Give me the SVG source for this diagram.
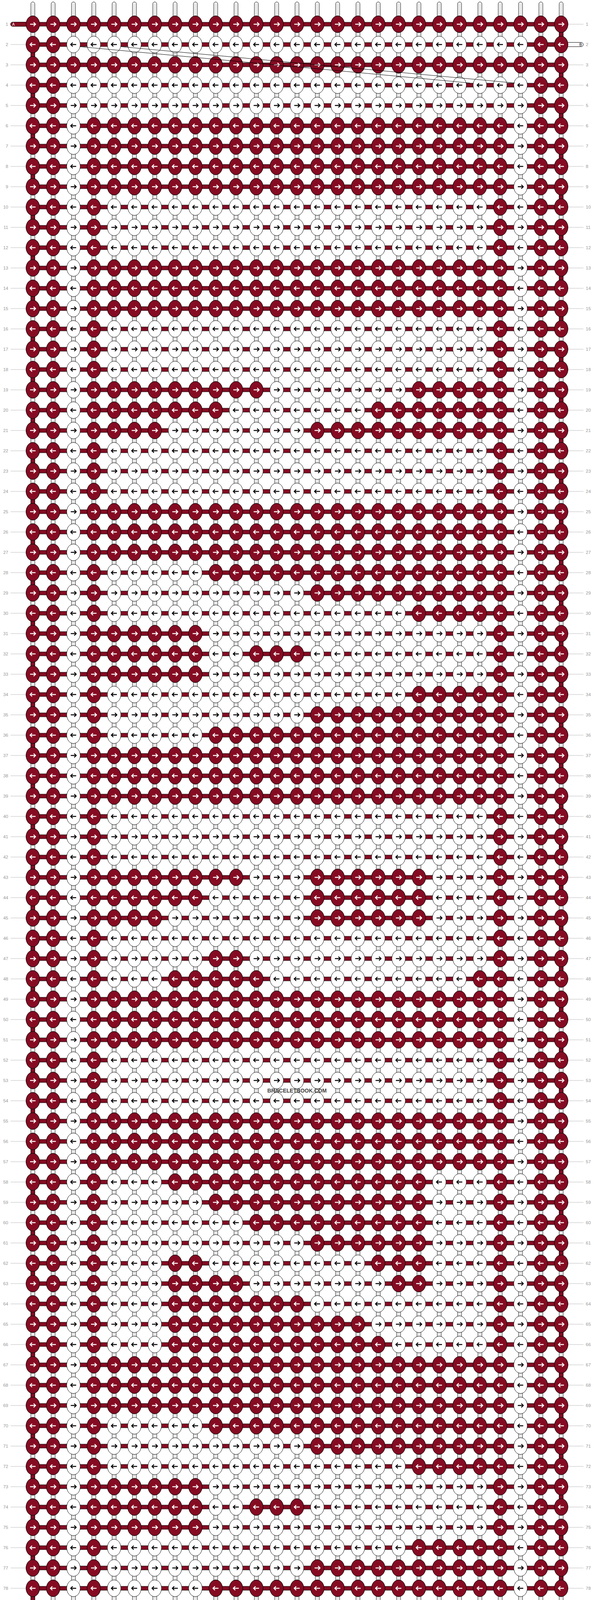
<svg xmlns="http://www.w3.org/2000/svg" width="1520" height="5532" viewBox="0 0 1520 5532">
<style>
.lbl{font-family:"Liberation Sans",Arial,sans-serif;font-size:11.5px;fill:#999}
.end{font-family:"Liberation Sans",Arial,sans-serif;font-size:10px}
</style>
<defs>
<g id="st"><rect x="-5" y="5" width="10" height="5522" rx="5" fill="#fff" stroke="#000"/><path d="M-1.6 9V5523M1.6 9V5523" stroke="#aaa" stroke-width="0.8"/></g>
<pattern id="pH" patternUnits="userSpaceOnUse" x="0" y="36" width="52" height="52"><rect y="21" width="52" height="10" fill="#850b22"/><path d="M0 21H52M0 31H52" stroke="#000"/></pattern>
<pattern id="pL" patternUnits="userSpaceOnUse" x="0" y="36" width="52" height="52"><path d="M0 26H52" stroke="#bbb"/></pattern>
<pattern id="pW" patternUnits="userSpaceOnUse" x="58" y="36" width="52" height="104">
<ellipse cx="26" cy="26" rx="17.3" ry="21.4" fill="#fff" stroke="#000"/>
<path d="M19 26H33M28 21L33 26L28 31" fill="none" stroke="#000" stroke-width="2.4"/>
<ellipse cx="26" cy="78" rx="17.3" ry="21.4" fill="#fff" stroke="#000"/>
<path d="M33 78H19M24 73L19 78L24 83" fill="none" stroke="#000" stroke-width="2.4"/>
</pattern>
<pattern id="pR" patternUnits="userSpaceOnUse" x="58" y="36" width="52" height="104">
<ellipse cx="26" cy="26" rx="17.3" ry="21.4" fill="#850b22" stroke="#000"/>
<path d="M19 26H33M28 21L33 26L28 31" fill="none" stroke="#fff" stroke-width="2.4"/>
<ellipse cx="26" cy="78" rx="17.3" ry="21.4" fill="#850b22" stroke="#000"/>
<path d="M33 78H19M24 73L19 78L24 83" fill="none" stroke="#fff" stroke-width="2.4"/>
</pattern>
</defs>
<rect width="1520" height="5532" fill="#fff"/>
<g id="connectors">
<g id="strands">
<use href="#st" x="84"/><use href="#st" x="136"/><use href="#st" x="188"/><use href="#st" x="240"/><use href="#st" x="292"/><use href="#st" x="344"/><use href="#st" x="396"/><use href="#st" x="448"/><use href="#st" x="500"/><use href="#st" x="552"/><use href="#st" x="604"/><use href="#st" x="656"/><use href="#st" x="708"/><use href="#st" x="760"/><use href="#st" x="812"/><use href="#st" x="864"/><use href="#st" x="916"/><use href="#st" x="968"/><use href="#st" x="1020"/><use href="#st" x="1072"/><use href="#st" x="1124"/><use href="#st" x="1176"/><use href="#st" x="1228"/><use href="#st" x="1280"/><use href="#st" x="1332"/><use href="#st" x="1384"/><use href="#st" x="1436"/>
</g>
<g id="label-lines">
<rect x="27" y="36" width="40" height="5460" fill="url(#pL)"/>
<rect x="1453" y="36" width="40" height="5460" fill="url(#pL)"/>
</g>
<g id="ends" class="end">
<path d="M72 56.5H32.5a5.5 5.5 0 0 0 0 11H72z" fill="#850b22" stroke="#000"/>
<text x="31" y="65.8" fill="#fff">A</text>
<path d="M1448 108.5H1487a5.5 5.5 0 0 1 0 11H1448z" fill="#fff" stroke="#000"/>
<text x="1482.5" y="117.8" fill="#000">B</text>
<path d="M72 5412.5H32.5a5.5 5.5 0 0 0 0 11H72z" fill="#fff" stroke="#000"/>
<text x="31" y="5421.8" fill="#000">B</text>
<path d="M1448 5464.5H1487a5.5 5.5 0 0 1 0 11H1448z" fill="#850b22" stroke="#000"/>
<text x="1482.5" y="5473.8" fill="#fff">A</text>
</g>
<g id="edges" fill="none" stroke-dasharray="52 52">
<line x1="84" y1="114" x2="84" y2="5470" stroke="#000" stroke-width="11"/>
<line x1="1436" y1="62" x2="1436" y2="5418" stroke="#000" stroke-width="11"/>
<line x1="84" y1="114" x2="84" y2="5470" stroke="#850b22" stroke-width="9"/>
<line x1="1436" y1="62" x2="1436" y2="5418" stroke="#850b22" stroke-width="9"/>
</g>
<rect id="strings" x="84" y="36" width="1352" height="5460" fill="url(#pH)"/>
</g>
<rect id="knots" x="58" y="36" width="1404" height="5460" fill="url(#pW)"/>
<g id="knots-red" fill="url(#pR)">
<rect x="58" y="36" width="104" height="5460"/>
<rect x="1358" y="36" width="104" height="5460"/>
<rect x="214" y="296" width="52" height="4940"/>
<rect x="1254" y="296" width="52" height="4940"/>
<rect x="162" y="36" width="1196" height="52"/>
<rect x="162" y="140" width="1196" height="52"/>
<rect x="162" y="5340" width="1196" height="52"/>
<rect x="162" y="5444" width="1196" height="52"/>
<rect x="266" y="296" width="988" height="208"/>
<rect x="266" y="660" width="988" height="156"/>
<rect x="266" y="1284" width="988" height="156"/>
<rect x="266" y="1908" width="988" height="156"/>
<rect x="266" y="2532" width="988" height="156"/>
<rect x="266" y="2844" width="988" height="156"/>
<rect x="266" y="3468" width="988" height="156"/>
<rect x="266" y="4092" width="988" height="156"/>
<rect x="266" y="4716" width="988" height="156"/>
<rect x="266" y="5028" width="988" height="208"/>
<rect x="266" y="972" width="416" height="52"/><rect x="1046" y="972" width="208" height="52"/>
<rect x="266" y="1024" width="312" height="52"/><rect x="942" y="1024" width="312" height="52"/>
<rect x="266" y="1076" width="156" height="52"/><rect x="786" y="1076" width="468" height="52"/>
<rect x="526" y="1440" width="728" height="52"/>
<rect x="786" y="1492" width="468" height="52"/>
<rect x="1046" y="1544" width="208" height="52"/>
<rect x="266" y="1596" width="260" height="156"/>
<rect x="630" y="1648" width="156" height="52"/>
<rect x="1046" y="1752" width="208" height="52"/>
<rect x="786" y="1804" width="468" height="52"/>
<rect x="526" y="1856" width="728" height="52"/>
<rect x="266" y="2220" width="364" height="52"/>
<rect x="786" y="2220" width="312" height="156"/>
<rect x="266" y="2272" width="260" height="52"/>
<rect x="266" y="2324" width="156" height="52"/>
<rect x="526" y="2428" width="104" height="52"/>
<rect x="422" y="2480" width="260" height="52"/><rect x="1202" y="2480" width="52" height="52"/>
<rect x="422" y="3000" width="676" height="52"/>
<rect x="526" y="3052" width="572" height="52"/>
<rect x="630" y="3104" width="468" height="52"/>
<rect x="786" y="3156" width="312" height="52"/>
<rect x="422" y="3208" width="104" height="52"/><rect x="942" y="3208" width="156" height="52"/>
<rect x="422" y="3260" width="208" height="52"/><rect x="994" y="3260" width="104" height="52"/>
<rect x="422" y="3312" width="364" height="52"/>
<rect x="422" y="3364" width="520" height="52"/>
<rect x="422" y="3416" width="572" height="52"/>
<rect x="526" y="3624" width="728" height="52"/>
<rect x="786" y="3676" width="468" height="52"/>
<rect x="1046" y="3728" width="208" height="52"/>
<rect x="266" y="3780" width="260" height="156"/>
<rect x="630" y="3832" width="156" height="52"/>
<rect x="1046" y="3936" width="208" height="52"/>
<rect x="786" y="3988" width="468" height="52"/>
<rect x="526" y="4040" width="728" height="52"/>
<rect x="266" y="4404" width="416" height="52"/><rect x="838" y="4404" width="416" height="52"/>
<rect x="266" y="4456" width="364" height="52"/><rect x="890" y="4456" width="364" height="52"/>
<rect x="266" y="4508" width="208" height="52"/><rect x="1098" y="4508" width="156" height="52"/>
<rect x="734" y="4560" width="52" height="52"/>
<rect x="630" y="4612" width="260" height="52"/>
<rect x="474" y="4664" width="572" height="52"/>
</g>
<g id="threads" fill="none" stroke="#000" stroke-width="1">
<path d="M205 119.5L1203 212.5M310 119.5L1317 212.5M205 5319.5L1203 5412.5M310 5319.5L1317 5412.5"/>
</g>
<text id="watermark" x="760" y="2797" text-anchor="middle" font-family="Liberation Sans, Arial, sans-serif" font-size="15" font-weight="bold" fill="#444" textLength="152" lengthAdjust="spacingAndGlyphs">BRACELETBOOK.COM</text>
<g id="labels-left" class="lbl" text-anchor="end" transform="translate(21 0)">
<text y="66">1</text><text y="118">2</text><text y="170">3</text><text y="222">4</text><text y="274">5</text><text y="326">6</text><text y="378">7</text><text y="430">8</text><text y="482">9</text><text y="534">10</text><text y="586">11</text><text y="638">12</text><text y="690">13</text><text y="742">14</text><text y="794">15</text><text y="846">16</text><text y="898">17</text><text y="950">18</text><text y="1002">19</text><text y="1054">20</text><text y="1106">21</text><text y="1158">22</text><text y="1210">23</text><text y="1262">24</text><text y="1314">25</text><text y="1366">26</text><text y="1418">27</text><text y="1470">28</text><text y="1522">29</text><text y="1574">30</text><text y="1626">31</text><text y="1678">32</text><text y="1730">33</text><text y="1782">34</text><text y="1834">35</text><text y="1886">36</text><text y="1938">37</text><text y="1990">38</text><text y="2042">39</text><text y="2094">40</text><text y="2146">41</text><text y="2198">42</text><text y="2250">43</text><text y="2302">44</text><text y="2354">45</text><text y="2406">46</text><text y="2458">47</text><text y="2510">48</text><text y="2562">49</text><text y="2614">50</text><text y="2666">51</text><text y="2718">52</text><text y="2770">53</text><text y="2822">54</text><text y="2874">55</text><text y="2926">56</text><text y="2978">57</text><text y="3030">58</text><text y="3082">59</text><text y="3134">60</text><text y="3186">61</text><text y="3238">62</text><text y="3290">63</text><text y="3342">64</text><text y="3394">65</text><text y="3446">66</text><text y="3498">67</text><text y="3550">68</text><text y="3602">69</text><text y="3654">70</text><text y="3706">71</text><text y="3758">72</text><text y="3810">73</text><text y="3862">74</text><text y="3914">75</text><text y="3966">76</text><text y="4018">77</text><text y="4070">78</text><text y="4122">79</text><text y="4174">80</text><text y="4226">81</text><text y="4278">82</text><text y="4330">83</text><text y="4382">84</text><text y="4434">85</text><text y="4486">86</text><text y="4538">87</text><text y="4590">88</text><text y="4642">89</text><text y="4694">90</text><text y="4746">91</text><text y="4798">92</text><text y="4850">93</text><text y="4902">94</text><text y="4954">95</text><text y="5006">96</text><text y="5058">97</text><text y="5110">98</text><text y="5162">99</text><text y="5214">100</text><text y="5266">101</text><text y="5318">102</text><text y="5370">103</text><text y="5422">104</text><text y="5474">105</text>
</g>
<g id="labels-right" class="lbl" transform="translate(1499 0)">
<text y="66">1</text><text y="118">2</text><text y="170">3</text><text y="222">4</text><text y="274">5</text><text y="326">6</text><text y="378">7</text><text y="430">8</text><text y="482">9</text><text y="534">10</text><text y="586">11</text><text y="638">12</text><text y="690">13</text><text y="742">14</text><text y="794">15</text><text y="846">16</text><text y="898">17</text><text y="950">18</text><text y="1002">19</text><text y="1054">20</text><text y="1106">21</text><text y="1158">22</text><text y="1210">23</text><text y="1262">24</text><text y="1314">25</text><text y="1366">26</text><text y="1418">27</text><text y="1470">28</text><text y="1522">29</text><text y="1574">30</text><text y="1626">31</text><text y="1678">32</text><text y="1730">33</text><text y="1782">34</text><text y="1834">35</text><text y="1886">36</text><text y="1938">37</text><text y="1990">38</text><text y="2042">39</text><text y="2094">40</text><text y="2146">41</text><text y="2198">42</text><text y="2250">43</text><text y="2302">44</text><text y="2354">45</text><text y="2406">46</text><text y="2458">47</text><text y="2510">48</text><text y="2562">49</text><text y="2614">50</text><text y="2666">51</text><text y="2718">52</text><text y="2770">53</text><text y="2822">54</text><text y="2874">55</text><text y="2926">56</text><text y="2978">57</text><text y="3030">58</text><text y="3082">59</text><text y="3134">60</text><text y="3186">61</text><text y="3238">62</text><text y="3290">63</text><text y="3342">64</text><text y="3394">65</text><text y="3446">66</text><text y="3498">67</text><text y="3550">68</text><text y="3602">69</text><text y="3654">70</text><text y="3706">71</text><text y="3758">72</text><text y="3810">73</text><text y="3862">74</text><text y="3914">75</text><text y="3966">76</text><text y="4018">77</text><text y="4070">78</text><text y="4122">79</text><text y="4174">80</text><text y="4226">81</text><text y="4278">82</text><text y="4330">83</text><text y="4382">84</text><text y="4434">85</text><text y="4486">86</text><text y="4538">87</text><text y="4590">88</text><text y="4642">89</text><text y="4694">90</text><text y="4746">91</text><text y="4798">92</text><text y="4850">93</text><text y="4902">94</text><text y="4954">95</text><text y="5006">96</text><text y="5058">97</text><text y="5110">98</text><text y="5162">99</text><text y="5214">100</text><text y="5266">101</text><text y="5318">102</text><text y="5370">103</text><text y="5422">104</text><text y="5474">105</text>
</g>
</svg>
